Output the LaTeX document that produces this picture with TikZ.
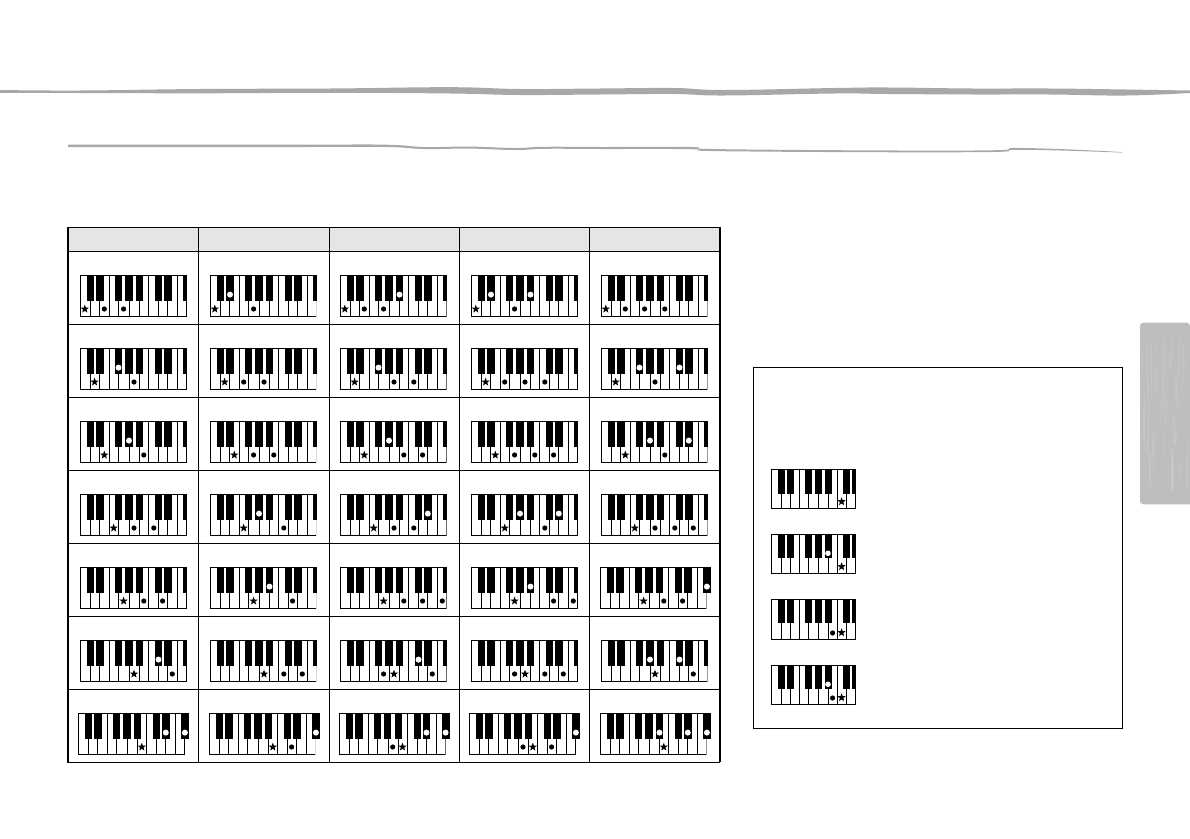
\documentclass[tikz,border=0pt]{standalone}
\usepackage{tikz}
\usetikzlibrary{shapes.geometric}
\usepackage{xcolor}
\definecolor{brushgray}{RGB}{168,168,168}
\definecolor{headgray}{RGB}{229,229,229}
\definecolor{tabgray}{RGB}{190,190,190}

% x position of each semitone from the low C, and whether it is a black key
\def\semix{{4.5,10.3,14.3,19.7,24,33.4,38.2,43.3,48.7,53.7,59.2,63.5,73.5,78.2,82.3,87.5,92,102,106.6}}
\def\isblk{{0,1,0,1,0,0,1,0,1,0,1,0,0,1,0,1,0,0,1}}
\def\colx{{80.3,210.3,340.3,471.3,601.3}}
\def\lowx{{78.3,209.3,339,469.3,600.3}}
\def\edgeshade{{100,15,60,100,40}}

\tikzset{
  keyline/.style={line width=0.65pt, black},
  chordstar/.style={star, star points=5, star point ratio=2.4, fill=black,
    inner sep=0pt, minimum size=6.5pt},
  rule/.style={line width=0.8pt, black}
}

% column, row, root semitone, other semitones
\newcommand{\chordkb}[4]{
  \pgfmathtruncatemacro\cellno{10*#2+#1}
  \ifnum\cellno>59 \pgfmathsetmacro\kx{\lowx[#1]}\def\lastb{110.7}
  \else\ifnum\cellno=44 \pgfmathsetmacro\kx{\lowx[#1]}\def\lastb{110.7}
  \else \pgfmathsetmacro\kx{\colx[#1]}\def\lastb{106.3}\fi\fi
  \pgfmathsetmacro\ky{275.3+73*#2}
  \pgfmathtruncatemacro\shade{\edgeshade[#1]}
  \begin{scope}[shift={(\kx,\ky)}]
    \foreach \d in {10.3,19.3,29,38.3,49.3,59,68.3,78,87.3,97}
      \draw[keyline] (\d,0) -- (\d,41.3);
    \foreach \a/\b in {6.7/14,15.7/23.7,34.7/41.7,45/52.3,55.7/62.7,74.7/81.7,83.7/91.3}
      \fill (\a,0) rectangle (\b,25.7);
    \fill (102.7,0) rectangle (\lastb,25.7);
    \draw[keyline] (106.3,0) -- (0,0) -- (0,41.3) -- (106.3,41.3);
    \draw[keyline, black!\shade] (106.3,25.7) -- (106.3,41.3);
    \foreach \n in {#4} {
      \pgfmathsetmacro\nx{\semix[\n]}
      \pgfmathtruncatemacro\nb{\isblk[\n]}
      \ifnum\nb=1 \fill[white] (\nx,19.3) circle (3);
      \else \fill (\nx,33.7) circle (2.6); \fi
    }
    \pgfmathsetmacro\sx{\semix[#3]}
    \node[chordstar] (star#1#2) at (\sx,33.7) {};
  \end{scope}
}

\begin{document}
\begin{tikzpicture}[x=0.75pt, y=-0.75pt]
\useasboundingbox (0,0) rectangle (1190,839);

% brush strokes
\fill[brushgray] plot[smooth, tension=0.7] coordinates {(0,90) (80,90.5) (200,89) (330,88.5) (450,87.2)
  (520,89) (600,88.5) (674,88) (724,90) (835,88) (888,87.5) (973,88.5) (1049,88.5) (1126,89.5) (1190,90.5)}
  -- plot[smooth, tension=0.7] coordinates {(1190,93) (1126,95.5) (1049,94.5) (973,94.5) (888,94) (835,93.5)
  (724,95.5) (674,94) (600,94.5) (520,95) (450,93.5) (330,92.8) (200,93.3) (80,93) (0,93)} -- cycle;
\fill[brushgray] plot[smooth, tension=0.8] coordinates {(68,144.5) (300,144.6) (385,144.7) (425,147) (470,146.6)
  (515,148) (545,146.8) (600,147) (690,147) (730,149.3) (973,150.5) (1022,148) (1122,152)}
  -- plot[smooth, tension=0.8] coordinates {(1122,152.6) (1022,149.8) (973,152.2) (730,151.3) (690,149.2)
  (600,149) (545,148.8) (515,150) (470,148.6) (425,149) (385,147) (300,147) (68,147)} -- cycle;

% side tab
\fill[tabgray, rounded corners=2.5pt] (1140,322.7) -- (1190,322.7) [sharp corners] -- (1190,504.3)
  [rounded corners=2.5pt] -- (1140,504.3) -- cycle;
\pgfmathsetseed{7}
\foreach \i in {1,...,45} {
  \pgfmathsetmacro\tx{1142+rnd*47}
  \pgfmathsetmacro\ty{325+rnd*140}
  \pgfmathsetmacro\tl{12+rnd*30}
  \draw[white, opacity=0.08, line width=1pt] (\tx,\ty) -- (\tx,\ty+\tl);
}

% chord table
\fill[headgray] (68,227.3) rectangle (720,251.3);
\foreach \y in {227.3,251.3,324.3,397.3,470.3,543.3,616.5,689.3,762.3}
  \draw[rule] (67.3,\y) -- (720,\y);
\foreach \x in {68,198.3,329.3,459.3,589.3,720}
  \draw[rule] (\x,227.3) -- (\x,762.3);

\chordkb{0}{0}{0}{4,7} \chordkb{1}{0}{0}{3,7} \chordkb{2}{0}{0}{4,7,10} \chordkb{3}{0}{0}{3,7,10} \chordkb{4}{0}{0}{4,7,11}
\chordkb{0}{1}{2}{6,9} \chordkb{1}{1}{2}{5,9} \chordkb{2}{1}{2}{6,9,12} \chordkb{3}{1}{2}{5,9,12} \chordkb{4}{1}{2}{6,9,13}
\chordkb{0}{2}{4}{8,11} \chordkb{1}{2}{4}{7,11} \chordkb{2}{2}{4}{8,11,14} \chordkb{3}{2}{4}{7,11,14} \chordkb{4}{2}{4}{8,11,15}
\chordkb{0}{3}{5}{9,12} \chordkb{1}{3}{5}{8,12} \chordkb{2}{3}{5}{9,12,15} \chordkb{3}{3}{5}{8,12,15} \chordkb{4}{3}{5}{9,12,16}
\chordkb{0}{4}{7}{11,14} \chordkb{1}{4}{7}{10,14} \chordkb{2}{4}{7}{11,14,17} \chordkb{3}{4}{7}{10,14,17} \chordkb{4}{4}{7}{11,14,18}
\chordkb{0}{5}{9}{13,16} \chordkb{1}{5}{9}{12,16} \chordkb{2}{5}{9}{7,13,16} \chordkb{3}{5}{9}{7,12,16} \chordkb{4}{5}{9}{8,13,16}
\chordkb{0}{6}{11}{15,18} \chordkb{1}{6}{11}{14,18} \chordkb{2}{6}{11}{9,15,18} \chordkb{3}{6}{11}{9,14,18} \chordkb{4}{6}{11}{10,15,18}

% panel on the right
\draw[rule] (753.3,367.3) rectangle (1122.7,728.3);
\foreach \y/\h/\wdot/\bdot [count=\i] in {469.3/39/0/0, 534/39.3/1/0, 599/40.3/0/1, 665/39.3/1/1} {
  \begin{scope}[shift={(771.3,\y)}]
    \foreach \d in {10,19,28,37.3,47.3,57,66,75}
      \draw[keyline] (\d,0) -- (\d,\h);
    \foreach \a/\b in {6.7/13.7,15.7/23,33.7/40.7,43.7/50.7,53.7/60.7,71.7/78.7,80.3/84.3}
      \fill (\a,0) rectangle (\b,24.4);
    \draw[keyline] (84.4,\h) -- (0,\h) -- (0,0) -- (84.4,0) -- cycle;
    \ifnum\wdot=1 \fill[white] (56.7,19.3) circle (2.8); \fi
    \ifnum\bdot=1 \fill (61.3,\h-6.3) circle (2.6); \fi
    \node[chordstar] (panelstar\i) at (70.3,\h-6.7) {};
  \end{scope}
}
\end{tikzpicture}
\end{document}
